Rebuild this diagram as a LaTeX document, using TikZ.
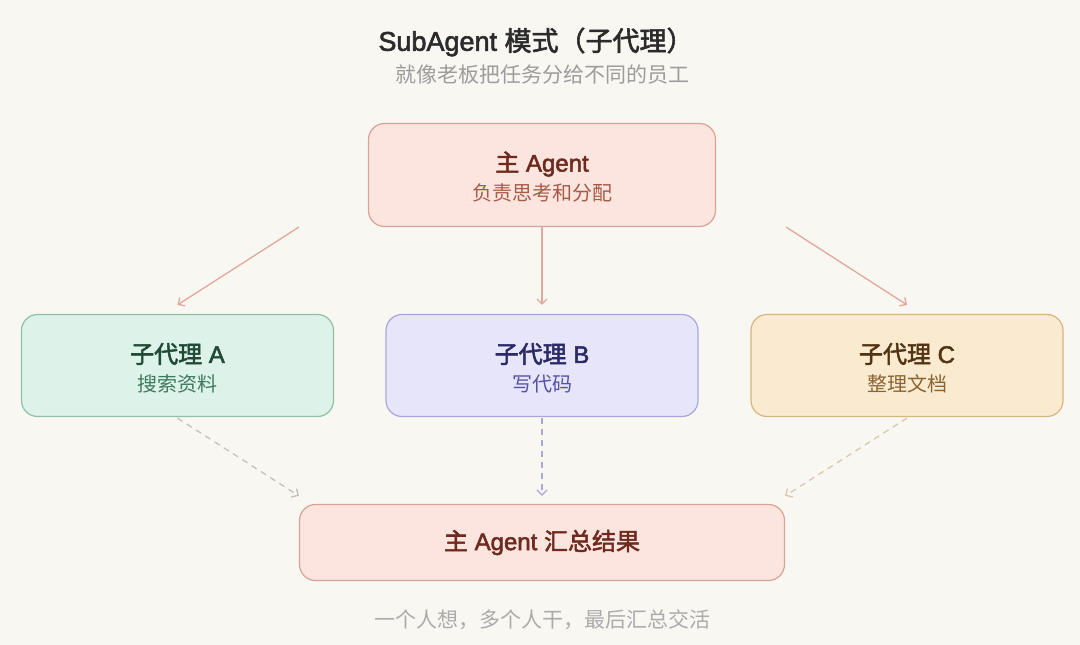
\documentclass[tikz,border=0pt]{standalone}
\usepackage{fontspec}
\setmainfont{Liberation Sans}
\newfontfamily\cjk{Noto Sans CJK SC}
\newfontfamily\cjkm[FakeBold=2.2]{Noto Sans CJK SC}
\newfontfamily\latm[FakeBold=2.2]{Liberation Sans}
\usetikzlibrary{arrows.meta,calc}
\definecolor{bg}{HTML}{F9F7F2}
\definecolor{pinkF}{HTML}{FBE5DE}
\definecolor{pinkD}{HTML}{D9A293}
\definecolor{pinkT}{HTML}{6E2A1E}
\definecolor{pinkS}{HTML}{A85A48}
\definecolor{greenF}{HTML}{DDF2E8}
\definecolor{greenD}{HTML}{8EC2A5}
\definecolor{greenT}{HTML}{1F4A36}
\definecolor{greenS}{HTML}{3E7A5D}
\definecolor{purpF}{HTML}{E6E5FA}
\definecolor{purpD}{HTML}{A9A6DD}
\definecolor{purpT}{HTML}{2B2966}
\definecolor{purpS}{HTML}{5551A6}
\definecolor{yelF}{HTML}{FAEBD0}
\definecolor{yelD}{HTML}{D6B67E}
\definecolor{yelT}{HTML}{523414}
\definecolor{yelS}{HTML}{8A6431}
\definecolor{arrS}{HTML}{E2A89B}
\definecolor{arrA}{HTML}{C2C2BC}
\definecolor{arrB}{HTML}{ABA8D6}
\definecolor{arrC}{HTML}{D8C9AA}
\definecolor{titleC}{HTML}{2B2B2B}
\definecolor{greyT}{HTML}{9C9C9C}
\begin{document}
\begin{tikzpicture}[x=1pt,y=-1pt,
  box/.style={rounded corners=16pt, line width=1.2pt, inner sep=0pt},
  bigtxt/.style={font=\fontsize{24}{28}\selectfont\latm, inner sep=0pt},
  smalltxt/.style={font=\fontsize{20}{24}\selectfont, inner sep=0pt},
  solidarr/.style={draw=arrS, line width=1.3pt, -{Straight Barb[length=5pt,width=10pt]}},
  dasharr/.style={line width=1.3pt, dash pattern=on 6pt off 5pt, -{Straight Barb[length=5pt,width=10pt]}}
]
\fill[bg] (0,0) rectangle (1080,645);
\useasboundingbox (0,0) rectangle (1080,645);

% titles
\node[inner sep=0pt, text=titleC, font=\fontsize{27}{32}\selectfont\latm] (title) at (536,42) {SubAgent {\cjkm 模式（子代理）}};
\node[inner sep=0pt, text=greyT, font=\fontsize{21}{25}\selectfont] (subtitle) at (542,75) {\cjk 就像老板把任务分给不同的员工};

% boxes
\node[box, fill=pinkF, draw=pinkD, minimum width=347pt, minimum height=103pt] (main) at (542,175) {};
\node[box, fill=greenF, draw=greenD, minimum width=312pt, minimum height=102pt] (A) at (177.5,365.5) {};
\node[box, fill=purpF, draw=purpD, minimum width=312pt, minimum height=102pt] (B) at (542,365.5) {};
\node[box, fill=yelF, draw=yelD, minimum width=312pt, minimum height=102pt] (C) at (907,365.5) {};
\node[box, fill=pinkF, draw=pinkD, minimum width=485pt, minimum height=76pt] (bot) at (542,542.5) {};

% box texts
\node[bigtxt, text=pinkT] (mainT) at ([yshift=11pt]main.center) {{\cjkm 主} Agent};
\node[smalltxt, text=pinkS] (mainS) at ([yshift=-18pt]main.center) {\cjk 负责思考和分配};
\node[bigtxt, text=greenT] (AT) at ([yshift=11.5pt]A.center) {{\cjkm 子代理} A};
\node[smalltxt, text=greenS] (AS) at ([yshift=-18.5pt]A.center) {\cjk 搜索资料};
\node[bigtxt, text=purpT] (BT) at ([yshift=11.5pt]B.center) {{\cjkm 子代理} B};
\node[smalltxt, text=purpS] (BS) at ([yshift=-18.5pt]B.center) {\cjk 写代码};
\node[bigtxt, text=yelT] (CT) at ([yshift=11.5pt]C.center) {{\cjkm 子代理} C};
\node[smalltxt, text=yelS] (CS) at ([yshift=-18.5pt]C.center) {\cjk 整理文档};
\node[bigtxt, text=pinkT] (botT) at (bot.center) {{\cjkm 主} Agent {\cjkm 汇总结果}};

% footer
\node[inner sep=0pt, text=greyT!85, font=\fontsize{21}{25}\selectfont] (footer) at (542,620) {\cjk 一个人想，多个人干，最后汇总交活};

% solid arrows
\draw[solidarr] ([xshift=-69pt]main.south west) -- ([yshift=9pt]A.north);
\draw[solidarr] (main.south) -- ([yshift=9pt]B.north);
\draw[solidarr] ([xshift=70pt]main.south east) -- ([yshift=9pt]C.north);

% dashed arrows
\draw[dasharr, draw=arrA] ([yshift=-1pt]A.south) -- ([yshift=8pt]bot.north west);
\draw[dasharr, draw=arrB] ([yshift=-1pt]B.south) -- ([yshift=8pt]bot.north);
\draw[dasharr, draw=arrC] ([yshift=-1pt]C.south) -- ([yshift=8pt]bot.north east);
\end{tikzpicture}
\end{document}
